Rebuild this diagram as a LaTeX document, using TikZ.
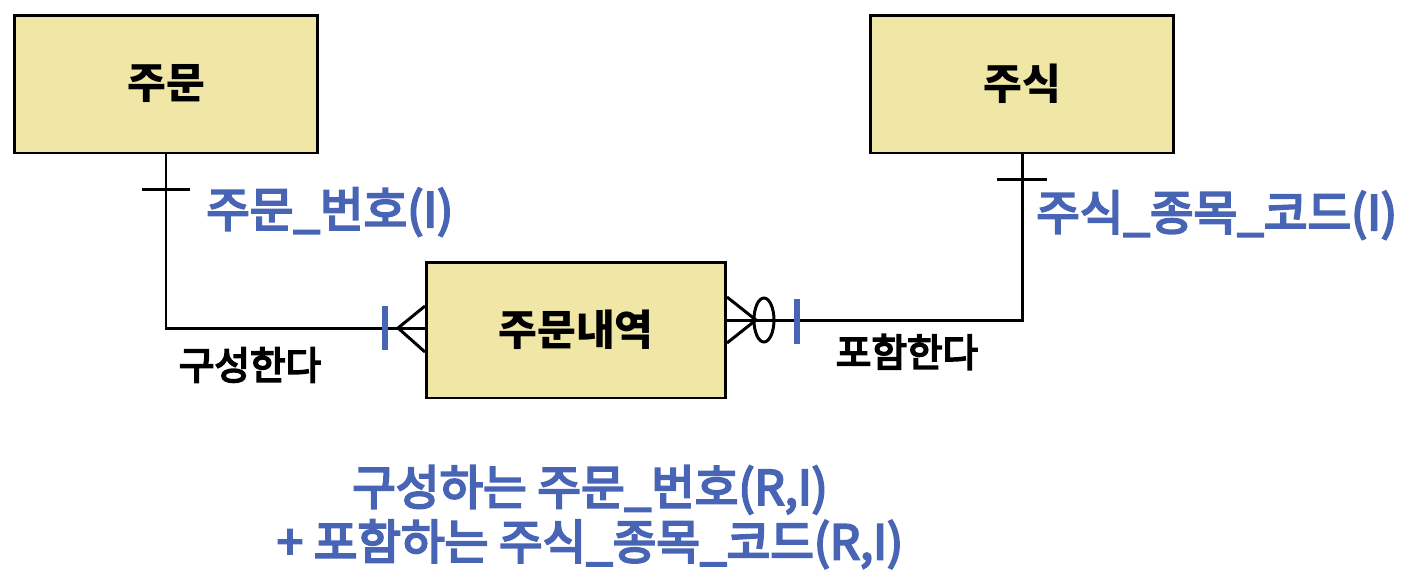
\documentclass[tikz,border=0pt]{standalone}
\usepackage{fontspec}
\setmainfont{Noto Sans CJK KR}
\newfontfamily\medfont{Noto Sans CJK KR}[FakeBold=4.5]
\usepackage{tikz}
\usetikzlibrary{positioning, calc, shapes.geometric}

\definecolor{entfill}{RGB}{240,230,166}
\definecolor{keyblue}{RGB}{72,100,180}

\begin{document}
\begin{tikzpicture}[
        x=0.02cm, y=-0.02cm,
        entity/.style={
            rectangle, draw=black, line width=1.7pt, fill=entfill,
            minimum width=6.08cm, minimum height=2.76cm,
            font=\fontsize{24}{28}\selectfont\bfseries
        },
        rel/.style={line width=1.7pt, draw=black},
        idbar/.style={line width=3.6pt, draw=keyblue},
        keylab/.style={text=keyblue, anchor=west, font=\fontsize{27}{31}\selectfont\medfont},
        verblab/.style={font=\fontsize{22}{26}\selectfont\medfont},
    ]
    \useasboundingbox (0,0) rectangle (1406,586);

    \node (jumun)   [entity] at (166,84)  {주문};
    \node (jusik)   [entity] at (1022,84) {주식};
    \node (naeyeok) [entity, minimum width=5.98cm, minimum height=2.72cm] at (576,330) {주문내역};

    % 주문 -- 주문내역
    \draw [rel] (jumun.south) |- ([yshift=0.04cm]naeyeok.west);
    \draw [rel] ($(jumun.south)+(-24,35)$) -- ($(jumun.south)+(24,35)$);
    \draw [rel] ($(naeyeok.west)+(0,-24)$) -- ($(naeyeok.west)+(-27,-2)$) -- ($(naeyeok.west)+(0,22)$);
    \draw [idbar] ($(naeyeok.west)+(-40,-24)$) -- ($(naeyeok.west)+(-40,20)$);

    % 주식 -- 주문내역
    \draw [rel] ([yshift=0.2cm]naeyeok.east) -| (jusik.south);
    \draw [rel] ($(jusik.south)+(-25,25)$) -- ($(jusik.south)+(25,25)$);
    \draw [rel] ($(naeyeok.east)+(0,-33)$) -- ($(naeyeok.east)+(29,-10)$) -- ($(naeyeok.east)+(0,13)$);
    \draw [rel] ($(naeyeok.east)+(37,-10)$) ellipse [x radius=10, y radius=22];
    \draw [idbar] ($(naeyeok.east)+(70,-31)$) -- ($(naeyeok.east)+(70,14)$);

    \node (jumunkey) [keylab] at (200,212) {주문\_번호(I)};
    \node (jusikkey) [keylab] at (1030,215) {주식\_종목\_코드(I)};
    \node (guseong)  [verblab] at (250,365) {구성한다};
    \node (poham)    [verblab] at (907,352) {포함한다};
    \node (naeyeokkey) [keylab, anchor=center, align=center,
        font=\fontsize{27}{31}\selectfont\medfont] at (590,517)
        {구성하는 주문\_번호(R,I)\\+ 포함하는 주식\_종목\_코드(R,I)};
\end{tikzpicture}
\end{document}
